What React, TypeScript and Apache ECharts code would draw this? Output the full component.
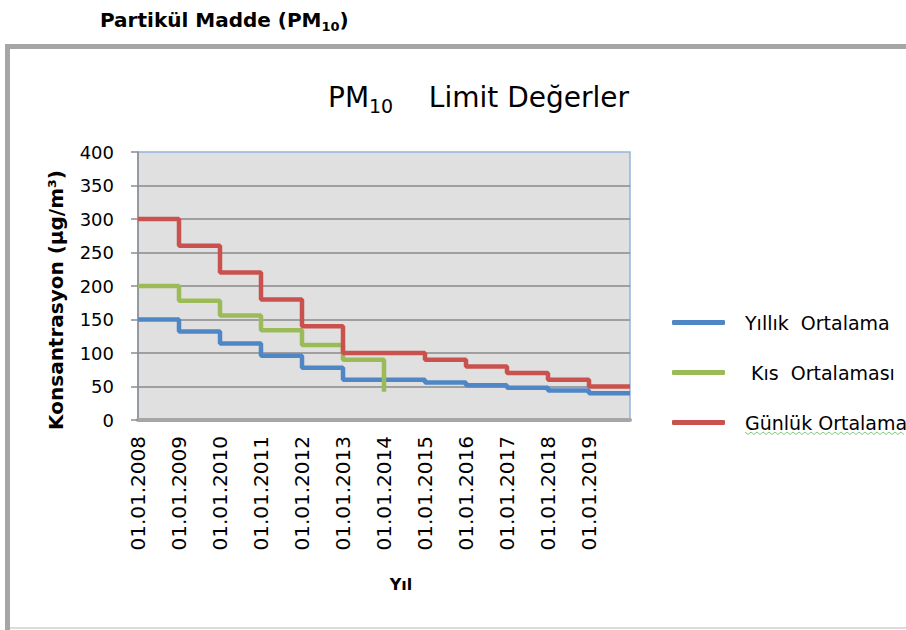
import React, { useEffect, useRef } from "react";
import * as echarts from "echarts";

const categories = [
  "01.01.2008", "01.01.2009", "01.01.2010", "01.01.2011", "01.01.2012", "01.01.2013",
  "01.01.2014", "01.01.2015", "01.01.2016", "01.01.2017", "01.01.2018", "01.01.2019",
];
const seriesNames = ["Yıllık  Ortalama", " Kıs  Ortalaması", "Günlük Ortalama"];
const yillik = [150, 132, 114, 96, 78, 60, 60, 56, 52, 48, 44, 40];
const kis = [200, 178, 156, 134, 112, 90, 42];
const gunluk = [300, 260, 220, 180, 140, 100, 100, 90, 80, 70, 60, 50];
const colors = ["#4f86c6", "#9bbb59", "#c9514e"];

const FONT = "DejaVu Sans";

function stepData(values: number[], extend: boolean) {
  const pts: number[][] = values.map((v, i) => [i, v]);
  if (extend) pts.push([values.length, values[values.length - 1]]);
  return pts;
}

export default function App() {
  const ref = useRef<HTMLDivElement>(null);
  useEffect(() => {
    if (!ref.current) return;
    const chart = echarts.init(ref.current, null, { renderer: "svg" });
    const wave: number[][] = [];
    for (let x = 745, k = 0; x <= 906; x += 3, k++) wave.push([x, k % 2 === 0 ? 432 : 434.5]);
    chart.setOption({
      animation: false,
      backgroundColor: "#ffffff",
      title: [
        {
          text: "{a|Partikül Madde (PM}{b|10}{a|)}",
          left: 100,
          top: 7,
          padding: 0,
          textStyle: {
            fontWeight: "bold",
            rich: {
              a: { fontFamily: FONT, fontWeight: "bold", fontSize: 20, color: "#000", lineHeight: 26 },
              b: { fontFamily: FONT, fontWeight: "bold", fontSize: 13, color: "#000", lineHeight: 26, verticalAlign: "bottom" },
            },
          },
        },
        {
          text: "{a|PM}{b|10}{a|    Limit Değerler}",
          left: 328,
          top: 80,
          padding: 0,
          textStyle: {
            fontWeight: "normal",
            rich: {
              a: { fontFamily: FONT, fontWeight: "normal", fontSize: 28, color: "#000", lineHeight: 35 },
              b: { fontFamily: FONT, fontWeight: "normal", fontSize: 19, color: "#000", lineHeight: 35, verticalAlign: "bottom" },
            },
          },
        },
      ],
      legend: {
        orient: "vertical",
        left: 672,
        top: 313,
        icon: "roundRect",
        itemWidth: 53,
        itemHeight: 5,
        itemGap: 31,
        padding: 0,
        data: seriesNames,
        textStyle: { fontFamily: FONT, fontSize: 19, color: "#000", lineHeight: 19, padding: [0, 0, 0, 15] },
      },
      grid: {
        left: 138,
        top: 152,
        width: 492,
        height: 268,
        show: true,
        backgroundColor: "#e0e0e0",
        borderColor: "#95b3d7",
        borderWidth: 1.5,
      },
      xAxis: {
        type: "value",
        min: 0,
        max: 12,
        interval: 1,
        axisLine: { show: true, lineStyle: { color: "#a6a6a6", width: 4 } },
        axisTick: { show: false },
        splitLine: { show: false },
        axisLabel: {
          rotate: 90,
          margin: 16,
          fontFamily: FONT,
          fontSize: 20,
          color: "#000",
          showMaxLabel: true,
          formatter: (v: number) => categories[v] ?? "",
        },
      },
      yAxis: {
        type: "value",
        min: 0,
        max: 400,
        interval: 50,
        axisLine: { show: true, lineStyle: { color: "#8c8c8c", width: 1.5 } },
        axisTick: { show: true, length: 7, lineStyle: { color: "#8c8c8c", width: 1.5 } },
        axisLabel: { margin: 24, fontFamily: FONT, fontSize: 18, color: "#000" },
        splitLine: { show: true, showMinLine: false, showMaxLine: false, lineStyle: { color: "#8a8a8a", width: 1.5 } },
      },
      series: [
        { name: seriesNames[0], type: "line", step: "end", symbol: "none", data: stepData(yillik, true), lineStyle: { width: 4.5, color: colors[0] }, itemStyle: { color: colors[0] } },
        { name: seriesNames[1], type: "line", step: "end", symbol: "none", data: stepData(kis, false), lineStyle: { width: 4.5, color: colors[1] }, itemStyle: { color: colors[1] } },
        { name: seriesNames[2], type: "line", step: "end", symbol: "none", data: stepData(gunluk, true), lineStyle: { width: 4.5, color: colors[2] }, itemStyle: { color: colors[2] } },
      ],
      graphic: [
        { type: "rect", shape: { x: 5, y: 44, width: 901, height: 5 }, style: { fill: "#a6a6a6" }, silent: true },
        { type: "rect", shape: { x: 5, y: 44, width: 5, height: 586 }, style: { fill: "#a6a6a6" }, silent: true },
        { type: "rect", shape: { x: 10, y: 627, width: 896, height: 2 }, style: { fill: "#dcdcdc" }, silent: true },
        {
          type: "text",
          x: 56,
          y: 300,
          rotation: Math.PI / 2,
          style: {
            text: "Konsantrasyon (µg/m³)",
            fill: "#000",
            font: `bold 20px "${FONT}"`,
            textAlign: "center",
            textVerticalAlign: "middle",
            align: "center",
            verticalAlign: "middle",
          },
          silent: true,
        },
        {
          type: "text",
          x: 401,
          y: 584,
          style: {
            text: "Yıl",
            fill: "#000",
            font: `bold 16px "${FONT}"`,
            textAlign: "center",
            textVerticalAlign: "middle",
            align: "center",
            verticalAlign: "middle",
          },
          silent: true,
        },
        { type: "polyline", shape: { points: wave }, style: { stroke: "#7fc97f", lineWidth: 1, fill: null }, silent: true },
      ],
    });
    return () => chart.dispose();
  }, []);
  return <div ref={ref} style={{ position: "absolute", left: 0, top: 0, width: 906, height: 630 }} />;
}
